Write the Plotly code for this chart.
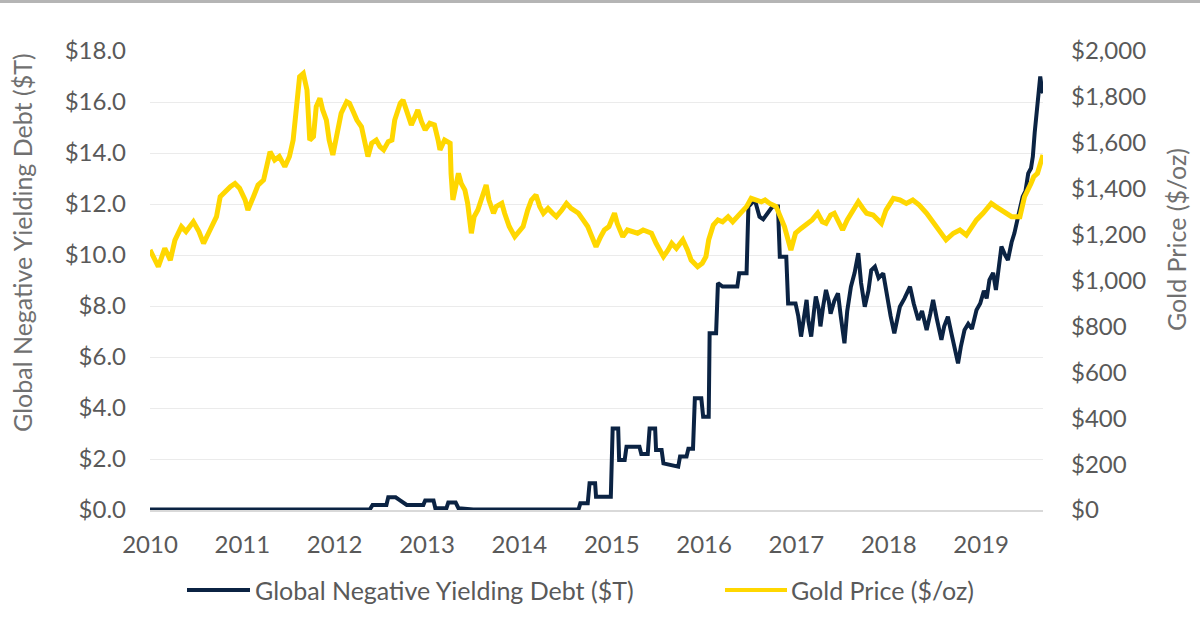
import plotly.graph_objects as go

# ---- Data (decimal years) ----
gold_t = [2010.00, 2010.09, 2010.16, 2010.22, 2010.27, 2010.34, 2010.39, 2010.47, 2010.53, 2010.58,
          2010.65, 2010.72, 2010.76, 2010.81, 2010.87, 2010.92, 2010.97, 2011.03, 2011.06, 2011.12,
          2011.17, 2011.23, 2011.30, 2011.35, 2011.40, 2011.46, 2011.51, 2011.55, 2011.59, 2011.62,
          2011.66, 2011.70, 2011.73, 2011.77, 2011.80, 2011.84, 2011.87, 2011.91, 2011.94, 2011.98,
          2012.02, 2012.07, 2012.13, 2012.16, 2012.20, 2012.24, 2012.29, 2012.32, 2012.36, 2012.40,
          2012.45, 2012.49, 2012.53, 2012.58, 2012.62, 2012.65, 2012.71, 2012.74, 2012.78, 2012.83,
          2012.87, 2012.90, 2012.94, 2012.98, 2013.03, 2013.08, 2013.12, 2013.14, 2013.19, 2013.25,
          2013.26, 2013.28, 2013.34, 2013.37, 2013.41, 2013.44, 2013.48, 2013.51, 2013.55, 2013.60,
          2013.64, 2013.67, 2013.72, 2013.75, 2013.81, 2013.84, 2013.89, 2013.95, 2014.00, 2014.04,
          2014.09, 2014.13, 2014.18, 2014.22, 2014.26, 2014.31, 2014.36, 2014.40, 2014.46, 2014.51,
          2014.56, 2014.64, 2014.69, 2014.74, 2014.77, 2014.83, 2014.88, 2014.92, 2014.97, 2015.03,
          2015.06, 2015.12, 2015.17, 2015.23, 2015.28, 2015.34, 2015.39, 2015.43, 2015.48, 2015.56,
          2015.61, 2015.65, 2015.70, 2015.77, 2015.82, 2015.86, 2015.93, 2015.98, 2016.02, 2016.05,
          2016.10, 2016.15, 2016.20, 2016.26, 2016.31, 2016.36, 2016.42, 2016.46, 2016.51, 2016.57,
          2016.62, 2016.66, 2016.71, 2016.78, 2016.83, 2016.87, 2016.94, 2016.99, 2017.05, 2017.12,
          2017.17, 2017.23, 2017.28, 2017.32, 2017.37, 2017.41, 2017.46, 2017.50, 2017.55, 2017.61,
          2017.67, 2017.72, 2017.76, 2017.83, 2017.92, 2017.97, 2018.05, 2018.12, 2018.19, 2018.26,
          2018.33, 2018.41, 2018.46, 2018.52, 2018.59, 2018.62, 2018.70, 2018.77, 2018.84, 2018.95,
          2019.02, 2019.11, 2019.16, 2019.22, 2019.27, 2019.33, 2019.42, 2019.47, 2019.54, 2019.57,
          2019.61, 2019.64, 2019.67]
gold_price = [1133, 1060, 1140, 1089, 1176, 1235, 1213, 1256, 1213, 1162,
              1220, 1278, 1365, 1387, 1409, 1423, 1402, 1351, 1307, 1365,
              1416, 1438, 1561, 1525, 1540, 1496, 1540, 1612, 1758, 1888,
              1902, 1830, 1612, 1627, 1758, 1794, 1743, 1699, 1612, 1547,
              1627, 1729, 1779, 1772, 1736, 1699, 1670, 1612, 1540, 1598,
              1612, 1583, 1569, 1605, 1612, 1699, 1772, 1786, 1743, 1678,
              1714, 1743, 1692, 1656, 1685, 1678, 1612, 1569, 1612, 1598,
              1467, 1351, 1467, 1423, 1394, 1336, 1206, 1278, 1307, 1365,
              1416, 1351, 1293, 1322, 1336, 1293, 1235, 1191, 1220, 1235,
              1307, 1351, 1373, 1322, 1293, 1314, 1293, 1278, 1307, 1336,
              1314, 1293, 1264, 1235, 1206, 1147, 1191, 1220, 1235, 1293,
              1249, 1191, 1220, 1213, 1206, 1220, 1213, 1206, 1162, 1104,
              1133, 1162, 1140, 1177, 1133, 1089, 1060, 1075, 1104, 1177,
              1242, 1264, 1256, 1278, 1256, 1278, 1307, 1322, 1358, 1351,
              1343, 1351, 1336, 1322, 1278, 1235, 1133, 1206, 1227, 1249,
              1264, 1293, 1256, 1249, 1285, 1293, 1256, 1220, 1264, 1300,
              1343, 1314, 1293, 1285, 1249, 1307, 1358, 1351, 1336, 1351,
              1329, 1293, 1264, 1235, 1191, 1177, 1206, 1220, 1198, 1264,
              1293, 1336, 1322, 1307, 1293, 1278, 1278, 1365, 1423, 1452,
              1467, 1510, 1547]

debt_t = [2010.00, 2012.38, 2012.41, 2012.56, 2012.58, 2012.66, 2012.70, 2012.78, 2012.96, 2012.98,
          2013.07, 2013.09, 2013.21, 2013.23, 2013.31, 2013.34, 2013.50, 2014.64, 2014.66, 2014.74,
          2014.76, 2014.82, 2014.83, 2014.99, 2015.01, 2015.07, 2015.08, 2015.14, 2015.16, 2015.30,
          2015.32, 2015.39, 2015.41, 2015.47, 2015.48, 2015.54, 2015.56, 2015.72, 2015.74, 2015.81,
          2015.83, 2015.88, 2015.90, 2015.97, 2015.99, 2016.05, 2016.06, 2016.13, 2016.15, 2016.20,
          2016.36, 2016.38, 2016.46, 2016.48, 2016.55, 2016.60, 2016.64, 2016.74, 2016.80, 2016.82,
          2016.89, 2016.91, 2016.99, 2017.02, 2017.05, 2017.08, 2017.11, 2017.13, 2017.16, 2017.19,
          2017.21, 2017.24, 2017.26, 2017.29, 2017.32, 2017.35, 2017.37, 2017.41, 2017.45, 2017.48,
          2017.52, 2017.55, 2017.59, 2017.63, 2017.67, 2017.70, 2017.74, 2017.78, 2017.81, 2017.85,
          2017.89, 2017.94, 2017.98, 2018.02, 2018.06, 2018.09, 2018.12, 2018.17, 2018.23, 2018.27,
          2018.32, 2018.36, 2018.41, 2018.45, 2018.48, 2018.52, 2018.57, 2018.60, 2018.64, 2018.68,
          2018.72, 2018.75, 2018.78, 2018.82, 2018.86, 2018.90, 2018.95, 2018.99, 2019.03, 2019.06,
          2019.09, 2019.13, 2019.16, 2019.19, 2019.22, 2019.26, 2019.29, 2019.33, 2019.36, 2019.40,
          2019.45, 2019.48, 2019.51, 2019.54, 2019.56, 2019.58, 2019.60, 2019.62, 2019.64, 2019.655,
          2019.67]
debt_value = [0.02, 0.02, 0.2, 0.2, 0.5, 0.5, 0.4, 0.2, 0.2, 0.37,
              0.37, 0.07, 0.07, 0.29, 0.29, 0.07, 0.02, 0.02, 0.26, 0.26,
              1.05, 1.05, 0.52, 0.52, 3.2, 3.2, 1.96, 1.96, 2.48, 2.48,
              2.2, 2.2, 3.2, 3.2, 2.35, 2.35, 1.83, 1.7, 2.1, 2.1,
              2.4, 2.4, 4.38, 4.38, 3.66, 3.66, 6.93, 6.93, 8.9, 8.76,
              8.76, 9.28, 9.28, 11.9, 12.16, 11.5, 11.4, 11.9, 11.9, 9.93,
              9.93, 8.1, 8.1, 7.6, 6.8, 7.5, 8.24, 7.4, 6.8, 7.8,
              8.37, 7.9, 7.2, 8.0, 8.63, 8.2, 7.7, 8.2, 8.5, 7.6,
              6.54, 7.8, 8.76, 9.3, 10.07, 8.9, 7.97, 8.6, 9.4, 9.54,
              9.1, 9.28, 8.4, 7.6, 6.93, 7.5, 7.97, 8.3, 8.76, 8.1,
              7.45, 7.8, 7.06, 7.7, 8.24, 7.5, 6.67, 7.2, 7.58, 6.9,
              6.3, 5.75, 6.4, 7.06, 7.3, 7.1, 7.84, 8.1, 8.6, 8.3,
              9.02, 9.3, 8.63, 9.6, 10.33, 10.0, 9.8, 10.5, 10.85, 11.5,
              12.29, 12.5, 13.2, 13.4, 13.86, 14.8, 15.56, 16.3, 17.0, 16.6,
              16.34]

year_ticks = [2010, 2011, 2012, 2013, 2014, 2015, 2016, 2017, 2018, 2019]
debt_name = "Global Negative Yielding Debt ($T)"
gold_name = "Gold Price ($/oz)"

NAVY = "#0b2343"
GOLD = "#ffd700"
TXT = "#595959"
TITLE_TXT = "#707070"
FONT = "Lato"
TICK_SIZE = 24
TEXT_SIZE = 25

fig = go.Figure()
fig.add_trace(go.Scatter(x=gold_t, y=gold_price, mode="lines", name=gold_name,
                         line=dict(color=GOLD, width=5), yaxis="y2"))
fig.add_trace(go.Scatter(x=debt_t, y=debt_value, mode="lines", name=debt_name,
                         line=dict(color=NAVY, width=4), yaxis="y"))

W, H = 1200, 634
ml, mr, mt, mb = 150, 157, 51, 124
pw, ph = W - ml - mr, H - mt - mb

def px_x(p):
    return (p - ml) / pw

def px_y(p):
    return (H - mb - p) / ph

fig.update_layout(
    width=W, height=H,
    margin=dict(l=ml, r=mr, t=mt, b=mb, autoexpand=False),
    plot_bgcolor="white", paper_bgcolor="white",
    font=dict(family=FONT, size=TICK_SIZE, color=TXT),
    showlegend=False,
    xaxis=dict(range=[2010, 2019.67], tickvals=year_ticks, ticktext=[str(y) for y in year_ticks],
               showgrid=False, zeroline=False, showline=True, linecolor="#d9d9d9", linewidth=1.5,
               ticks="", ticklabelstandoff=12, tickfont=dict(size=TICK_SIZE, color=TXT)),
    yaxis=dict(range=[0, 18], dtick=2, tickformat="$.1f", showgrid=True, gridcolor="#ebebeb",
               gridwidth=1.2, zeroline=False, ticks="", ticklabelstandoff=23,
               tickfont=dict(size=TICK_SIZE, color=TXT)),
    yaxis2=dict(range=[0, 2000], dtick=200, tickformat="$,.0f", overlaying="y", side="right",
                showgrid=False, zeroline=False, ticks="", ticklabelstandoff=27,
                tickfont=dict(size=TICK_SIZE, color=TXT)),
)

# axis titles
fig.add_annotation(text=debt_name, xref="paper", yref="paper", x=px_x(22), y=px_y(243),
                   textangle=-90, showarrow=False, font=dict(size=TEXT_SIZE, color=TITLE_TXT),
                   xanchor="center", yanchor="middle")
fig.add_annotation(text=gold_name, xref="paper", yref="paper", x=px_x(1176), y=px_y(240),
                   textangle=-90, showarrow=False, font=dict(size=TEXT_SIZE, color=TITLE_TXT),
                   xanchor="center", yanchor="middle")

# custom legend
ly = px_y(590)
fig.add_shape(type="line", xref="paper", yref="paper", x0=px_x(187), x1=px_x(250), y0=ly, y1=ly,
              line=dict(color=NAVY, width=4))
fig.add_annotation(text=debt_name, xref="paper", yref="paper", x=px_x(253), y=ly, showarrow=False,
                   xanchor="left", yanchor="middle", font=dict(size=TEXT_SIZE, color=TXT))
fig.add_shape(type="line", xref="paper", yref="paper", x0=px_x(725), x1=px_x(787), y0=ly, y1=ly,
              line=dict(color=GOLD, width=4))
fig.add_annotation(text=gold_name, xref="paper", yref="paper", x=px_x(789), y=ly, showarrow=False,
                   xanchor="left", yanchor="middle", font=dict(size=TEXT_SIZE, color=TXT))

# top border line
fig.add_shape(type="line", xref="paper", yref="paper", x0=px_x(0), x1=px_x(W), y0=px_y(1.5), y1=px_y(1.5),
              line=dict(color="#b5b5b5", width=3))

fig.write_html("out.html", config={"displayModeBar": False},
               post_script="document.body.style.margin='0';document.body.style.overflow='hidden';")
